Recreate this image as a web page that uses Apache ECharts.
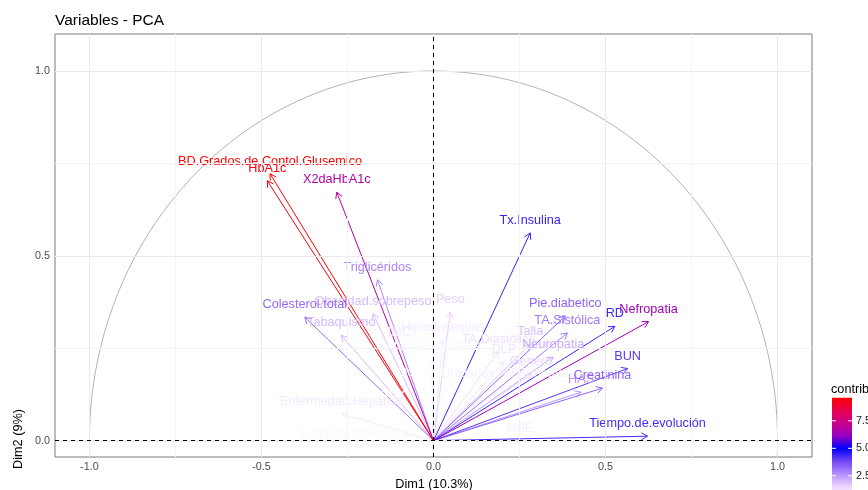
<!DOCTYPE html>
<html>
<head>
<meta charset="utf-8">
<script src="https://cdn.jsdelivr.net/npm/echarts@6/dist/echarts.min.js"></script>
<style>
  html, body { margin: 0; padding: 0; background: #ffffff; }
  #chart { width: 868px; height: 490px; }
</style>
</head>
<body>
<div id="chart"></div>
<script>
// Variable loadings on the first two principal components
const variables = [
  'Ocupación', 'Cancer', 'Enfermedad.Renal', 'Lugar.de.residencia', 'Unidades.MTF.por.día',
  'NSE', 'Hipoglucemias', 'IMC', 'Enfermedad.Hepática', 'DLP', 'TA.Diastólica',
  'Genero', 'Peso', 'Talla', 'Obesidad.sobrepeso', 'Tabaquismo', 'Neuropatia',
  'HAS', 'Triglicéridos', 'TA.Sistólica', 'Colesterol.total', 'Pie.diabetico',
  'Creatinina', 'BUN', 'RD', 'Tiempo.de.evolución', 'Tx.Insulina', 'Nefropatia',
  'X2daHbA1c', 'HbA1c', 'BD.Grados.de.Contol.Glusemico'
];
const dim1 = [
  -0.017, -0.142, -0.007, -0.224, 0.203,
  0.252, 0.027, -0.099, -0.268, 0.205, 0.189,
  0.283, 0.049, 0.281, -0.176, -0.268, 0.348,
  0.429, -0.163, 0.389, -0.374, 0.383,
  0.491, 0.564, 0.527, 0.622, 0.281, 0.625,
  -0.281, -0.483, -0.475
];
const dim2 = [
  0.150, 0.091, 0.222, -0.015, 0.147,
  -0.002, 0.271, 0.258, 0.073, 0.214, 0.241,
  0.179, 0.348, 0.261, 0.343, 0.285, 0.226,
  0.131, 0.435, 0.291, 0.334, 0.337,
  0.142, 0.195, 0.309, 0.012, 0.562, 0.322,
  0.672, 0.703, 0.722
];
const contrib = [
  0.40, 0.45, 0.63, 0.65, 0.81,
  0.82, 0.95, 0.98, 0.99, 1.13, 1.21,
  1.44, 1.59, 1.89, 1.91, 1.97, 2.21,
  2.58, 2.78, 3.03, 3.23, 3.34,
  3.35, 4.10, 4.35, 4.30, 4.45, 6.35,
  6.82, 9.35, 9.60
];
const xTicks = [-1.0, -0.5, 0.0, 0.5, 1.0];
const yTicks = [0.0, 0.5, 1.0];
const xMinorGrid = [-0.75, -0.25, 0.25, 0.75];
const yMinorGrid = [0.25, 0.75];
const legendTicks = [2.5, 5.0, 7.5];
const contribMin = 0.4;
const contribMax = 9.6;

// white -> blue -> red ramp (interpolated in Lab space)
const rampColors = ['#ffffff', '#ead3ff', '#b38bff', '#6f45f2', '#0000ff',
                    '#9900c2', '#c90089', '#e9004f', '#ff0000'];

const FONT = '"Liberation Sans", Arial, Helvetica, sans-serif';

// unit correlation circle
const circle = [];
for (let i = 0; i <= 200; i++) {
  const t = (i / 200) * 2 * Math.PI;
  circle.push([Math.cos(t), Math.sin(t)]);
}

const loadings = variables.map((v, i) => [dim1[i], dim2[i], contrib[i]]);

const chart = echarts.init(document.getElementById('chart'), null, { renderer: 'canvas' });

function arrowItem(params, api) {
  const p0 = api.coord([0, 0]);
  const p1 = api.coord([api.value(0), api.value(1)]);
  const color = api.visual('color');
  const ang = Math.atan2(p1[1] - p0[1], p1[0] - p0[0]);
  const L = 7, a = Math.PI / 6;
  const h1 = [p1[0] - L * Math.cos(ang - a), p1[1] - L * Math.sin(ang - a)];
  const h2 = [p1[0] - L * Math.cos(ang + a), p1[1] - L * Math.sin(ang + a)];
  return {
    type: 'group',
    children: [
      { type: 'line', shape: { x1: p0[0], y1: p0[1], x2: p1[0], y2: p1[1] },
        style: { stroke: color, lineWidth: 1, fill: null } },
      { type: 'polyline', shape: { points: [h1, p1, h2] },
        style: { stroke: color, lineWidth: 1, fill: null } }
    ]
  };
}

function labelItem(params, api) {
  const p1 = api.coord([api.value(0), api.value(1)]);
  const color = api.visual('color');
  return {
    type: 'text',
    x: p1[0],
    y: p1[1] - 12.5,
    style: {
      text: variables[params.dataIndex],
      fill: color,
      align: 'center',
      verticalAlign: 'middle',
      font: '12.7px ' + FONT
    }
  };
}

const majorLine = { color: '#ebebeb', width: 1, type: 'solid' };
const minorLine = { color: '#f4f4f4', width: 1, type: 'solid' };

const gridMarks = [];
xMinorGrid.forEach(v => gridMarks.push({ xAxis: v, lineStyle: minorLine }));
yMinorGrid.forEach(v => gridMarks.push({ yAxis: v, lineStyle: minorLine }));
xTicks.forEach(v => gridMarks.push({ xAxis: v, lineStyle: majorLine }));
yTicks.forEach(v => gridMarks.push({ yAxis: v, lineStyle: majorLine }));

// colour bar geometry
const barTop = 397.7, barLeft = 832, barW = 20, pxPerUnit = 11;
const barH = (contribMax - contribMin) * pxPerUnit;
const valueToBarY = v => barTop + (contribMax - v) * pxPerUnit;
const barStops = rampColors.map((c, i) => ({ offset: 1 - i / (rampColors.length - 1), color: c }));

const graphics = [
  { type: 'text', x: 55, y: 21, style: { text: 'Variables - PCA', fill: '#000', font: '15.5px ' + FONT, align: 'left', verticalAlign: 'middle' } },
  { type: 'text', x: 434, y: 484, style: { text: 'Dim1 (10.3%)', fill: '#000', font: '12.7px ' + FONT, align: 'center', verticalAlign: 'middle' } },
  { type: 'text', x: 18, y: 439, rotation: Math.PI / 2, style: { text: 'Dim2 (9%)', fill: '#000', font: '12.7px ' + FONT, align: 'center', verticalAlign: 'middle' } },
  { type: 'text', x: 831, y: 389, style: { text: 'contrib', fill: '#000', font: '12.7px ' + FONT, align: 'left', verticalAlign: 'middle' } },
  { type: 'rect', shape: { x: barLeft, y: barTop, width: barW, height: barH },
    style: { fill: new echarts.graphic.LinearGradient(0, 0, 0, 1, barStops) } }
];
legendTicks.forEach(v => {
  const y = valueToBarY(v);
  graphics.push({ type: 'line', shape: { x1: barLeft, y1: y, x2: barLeft + 4, y2: y }, style: { stroke: '#fff', lineWidth: 1 } });
  graphics.push({ type: 'line', shape: { x1: barLeft + barW - 4, y1: y, x2: barLeft + barW, y2: y }, style: { stroke: '#fff', lineWidth: 1 } });
  graphics.push({ type: 'text', x: barLeft + barW + 4, y: y, style: { text: v.toFixed(1), fill: '#1a1a1a', font: '10.8px ' + FONT, align: 'left', verticalAlign: 'middle' } });
});

const option = {
  backgroundColor: '#ffffff',
  animation: false,
  grid: { left: 55, top: 34, right: 56, bottom: 33, show: true, borderColor: '#7a7a7a', borderWidth: 1, backgroundColor: 'transparent' },
  xAxis: {
    type: 'value', min: -1.1, max: 1.1,
    axisLine: { show: false },
    splitLine: { show: false },
    axisTick: { show: true, customValues: xTicks, length: 4, lineStyle: { color: '#333' } },
    axisLabel: { customValues: xTicks, formatter: v => v.toFixed(1), color: '#4d4d4d', fontSize: 10.8, fontFamily: FONT, margin: 5 }
  },
  yAxis: {
    type: 'value', min: -0.0443, max: 1.1,
    axisLine: { show: false },
    splitLine: { show: false },
    axisTick: { show: true, customValues: yTicks, length: 4, lineStyle: { color: '#333' } },
    axisLabel: { customValues: yTicks, formatter: v => v.toFixed(1), color: '#4d4d4d', fontSize: 10.8, fontFamily: FONT, margin: 5 }
  },
  visualMap: {
    show: false, type: 'continuous', min: contribMin, max: contribMax,
    dimension: 2, seriesIndex: [3, 4],
    inRange: { color: rampColors }
  },
  graphic: graphics,
  series: [
    {
      name: 'grid', type: 'line', data: [[0, 0]], symbol: 'none', silent: true, z: 0,
      lineStyle: { opacity: 0 },
      markLine: { silent: true, symbol: 'none', label: { show: false }, animation: false, data: gridMarks }
    },
    {
      name: 'circle', type: 'line', data: circle, symbol: 'none', silent: true, z: 1,
      lineStyle: { color: '#b3b3b3', width: 1 }, clip: true
    },
    {
      name: 'zero', type: 'line', data: [[0, 0]], symbol: 'none', silent: true, z: 2,
      lineStyle: { opacity: 0 },
      markLine: { silent: true, symbol: 'none', label: { show: false }, animation: false,
        lineStyle: { color: '#000', width: 1, type: [4, 4] },
        data: [{ xAxis: 0 }, { yAxis: 0 }] }
    },
    {
      name: 'arrows', type: 'custom', data: loadings, renderItem: arrowItem, z: 3, silent: true,
      encode: { x: 0, y: 1 }
    },
    {
      name: 'labels', type: 'custom', data: loadings, renderItem: labelItem, z: 4, silent: true,
      encode: { x: 0, y: 1 }
    }
  ]
};

chart.setOption(option);
</script>
</body>
</html>
